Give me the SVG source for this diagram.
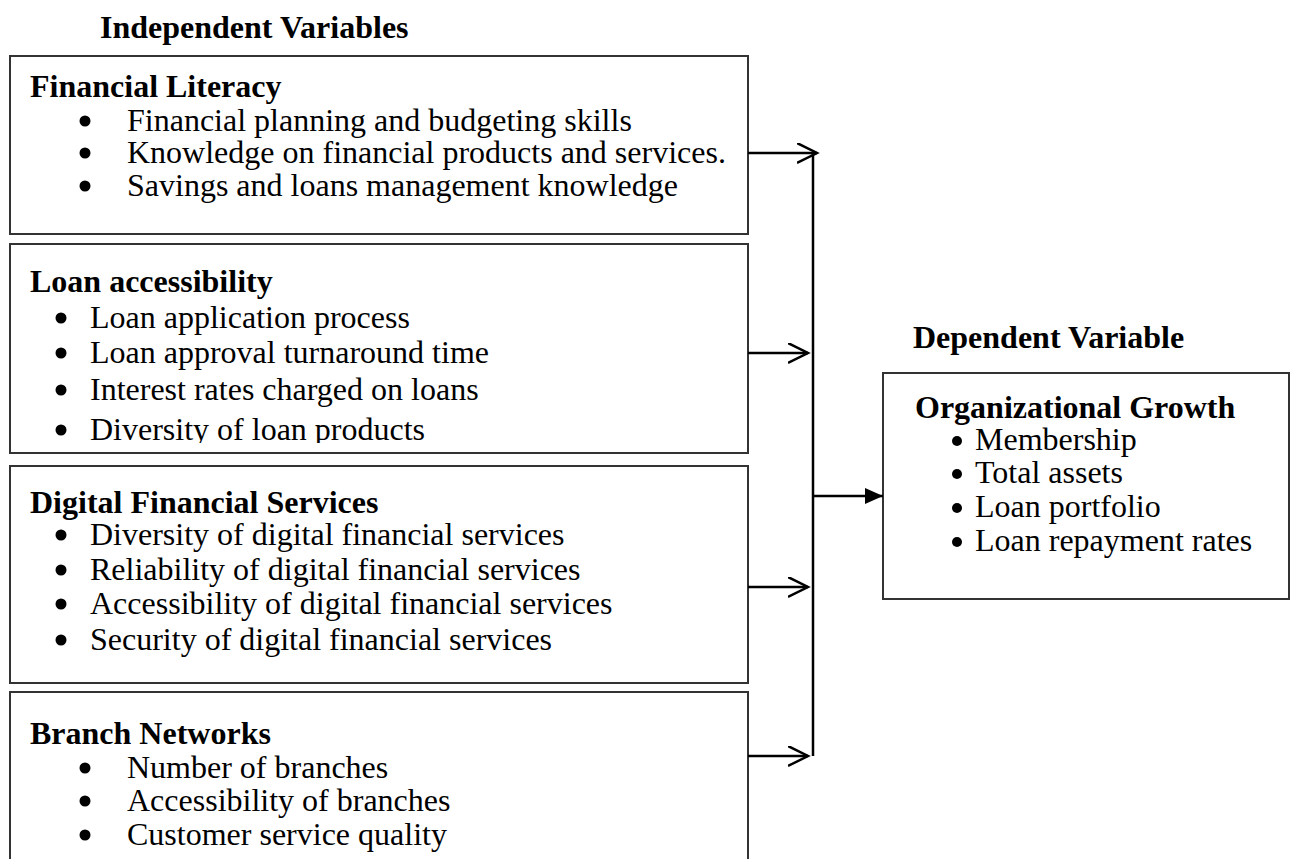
<svg xmlns="http://www.w3.org/2000/svg" width="1292" height="859" viewBox="0 0 1292 859">
  <style>
    .box { fill: #ffffff; stroke: #333333; stroke-width: 2; }
    .head { font-family: "Liberation Serif", "Times New Roman", serif; font-size: 32px; font-weight: bold; fill: #000; }
    .item { font-family: "Liberation Serif", "Times New Roman", serif; font-size: 32px; fill: #000; }
    .dot { fill: #000; }
    .link { stroke: #000; stroke-width: 2.5; fill: none; }
  </style>
  <defs>
    <marker id="open" markerWidth="24" markerHeight="24" refX="20" refY="10" orient="auto" markerUnits="userSpaceOnUse" viewBox="0 0 24 24">
      <path d="M0,0 L20,10 L0,20" fill="none" stroke="#000" stroke-width="2.5"/>
    </marker>
    <marker id="solid" markerWidth="20" markerHeight="18" refX="18" refY="8" orient="auto" markerUnits="userSpaceOnUse" viewBox="0 0 20 18">
      <path d="M0,0 L18,8 L0,16 Z" fill="#000"/>
    </marker>
    <clipPath id="clip-loan"><rect x="10" y="244" width="738" height="199"/></clipPath>
  </defs>
  <rect width="1292" height="859" fill="#ffffff"/>

  <text class="head" x="100" y="38">Independent Variables</text>
  <text class="head" x="913" y="348">Dependent Variable</text>

  <g id="financial-literacy">
    <rect class="box" x="10" y="56" width="738" height="178"/>
    <text class="head" x="30" y="97">Financial Literacy</text>
    <circle class="dot" cx="85" cy="121" r="5.5"/><text class="item" x="127" y="131">Financial planning and budgeting skills</text>
    <circle class="dot" cx="85" cy="153" r="5.5"/><text class="item" x="127" y="163">Knowledge on financial products and services.</text>
    <circle class="dot" cx="85" cy="186" r="5.5"/><text class="item" x="127" y="196">Savings and loans management knowledge</text>
  </g>

  <g id="loan-accessibility">
    <rect class="box" x="10" y="244" width="738" height="209"/>
    <g clip-path="url(#clip-loan)">
      <text class="head" x="30" y="292">Loan accessibility</text>
      <circle class="dot" cx="61" cy="318" r="5.5"/><text class="item" x="90" y="328">Loan application process</text>
      <circle class="dot" cx="61" cy="353" r="5.5"/><text class="item" x="90" y="363">Loan approval turnaround time</text>
      <circle class="dot" cx="61" cy="390" r="5.5"/><text class="item" x="90" y="400">Interest rates charged on loans</text>
      <circle class="dot" cx="61" cy="430" r="5.5"/><text class="item" x="90" y="440">Diversity of loan products</text>
    </g>
  </g>

  <g id="digital-financial-services">
    <rect class="box" x="10" y="466" width="738" height="217"/>
    <text class="head" x="30" y="513">Digital Financial Services</text>
    <circle class="dot" cx="61" cy="535" r="5.5"/><text class="item" x="90" y="545">Diversity of digital financial services</text>
    <circle class="dot" cx="61" cy="570" r="5.5"/><text class="item" x="90" y="580">Reliability of digital financial services</text>
    <circle class="dot" cx="61" cy="604" r="5.5"/><text class="item" x="90" y="614">Accessibility of digital financial services</text>
    <circle class="dot" cx="61" cy="640" r="5.5"/><text class="item" x="90" y="650">Security of digital financial services</text>
  </g>

  <g id="branch-networks">
    <rect class="box" x="10" y="692" width="738" height="180"/>
    <text class="head" x="30" y="744">Branch Networks</text>
    <circle class="dot" cx="85" cy="768" r="5.5"/><text class="item" x="127" y="778">Number of branches</text>
    <circle class="dot" cx="85" cy="801" r="5.5"/><text class="item" x="127" y="811">Accessibility of branches</text>
    <circle class="dot" cx="85" cy="835" r="5.5"/><text class="item" x="127" y="845">Customer service quality</text>
  </g>

  <g id="organizational-growth">
    <rect class="box" x="883" y="373" width="406" height="226"/>
    <text class="head" x="915" y="418">Organizational Growth</text>
    <circle class="dot" cx="957" cy="441" r="5"/><text class="item" x="975" y="450">Membership</text>
    <circle class="dot" cx="957" cy="474" r="5"/><text class="item" x="975" y="483">Total assets</text>
    <circle class="dot" cx="957" cy="508" r="5"/><text class="item" x="975" y="517">Loan portfolio</text>
    <circle class="dot" cx="957" cy="542" r="5"/><text class="item" x="975" y="551">Loan repayment rates</text>
  </g>

  <g id="connectors">
    <line class="link" x1="748" y1="153" x2="817" y2="153" marker-end="url(#open)"/>
    <line class="link" x1="748" y1="353" x2="808" y2="353" marker-end="url(#open)"/>
    <line class="link" x1="748" y1="587" x2="808" y2="587" marker-end="url(#open)"/>
    <line class="link" x1="748" y1="756" x2="808" y2="756" marker-end="url(#open)"/>
    <line class="link" x1="813" y1="153" x2="813" y2="756"/>
    <line class="link" x1="813" y1="496" x2="883" y2="496" marker-end="url(#solid)"/>
  </g>
</svg>
